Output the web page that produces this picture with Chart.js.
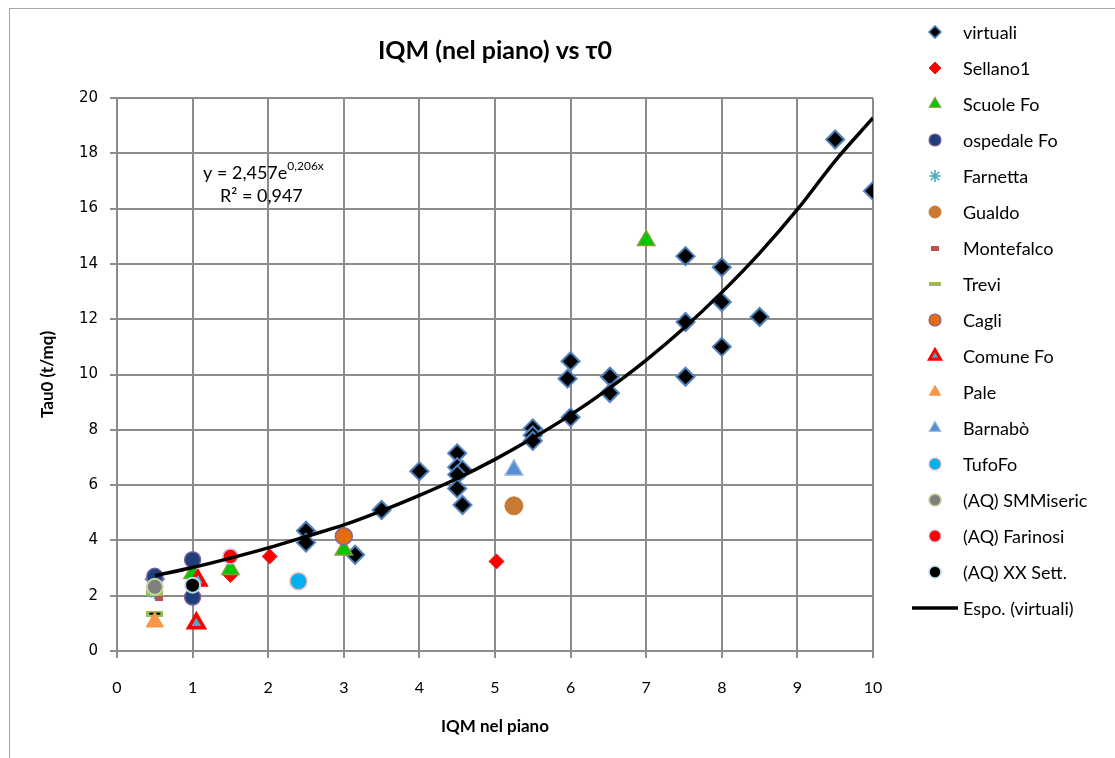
<!DOCTYPE html>
<html>
<head>
<meta charset="utf-8">
<script src="https://cdn.jsdelivr.net/npm/chart.js@4.4.1/dist/chart.umd.min.js"></script>
<style>
  html, body { margin: 0; padding: 0; background: #fff; }
  canvas { display: block; }
</style>
</head>
<body>
<canvas id="myChart" width="1115" height="758"></canvas>
<script>
// values (IQM nel piano -> Tau0)
const virtualiX = [0.5, 2.5, 2.5, 3.15, 3.5, 4.0, 4.5, 4.5, 4.57, 4.5, 4.5, 4.57, 5.5, 5.5, 5.5, 6.0, 5.96, 6.0, 6.52, 6.52, 7.52, 7.52, 7.52, 8.0, 8.0, 8.0, 8.5, 9.5, 10.0];
const virtualiY = [2.6, 4.35, 3.92, 3.48, 5.1, 6.5, 7.15, 6.65, 6.55, 6.38, 5.88, 5.28, 8.05, 7.8, 7.6, 8.45, 9.85, 10.48, 9.92, 9.33, 14.28, 11.9, 9.92, 13.88, 12.62, 11.0, 12.08, 18.5, 16.64];
const sellanoX = [1.5, 2.02, 5.02];
const sellanoY = [2.75, 3.42, 3.24];
const scuoleX = [1.0, 1.5, 3.0, 7.0];
const scuoleY = [2.8, 2.95, 3.65, 14.85];
const ospedaleX = [0.5, 1.0, 1.0];
const ospedaleY = [2.7, 3.3, 1.95];
const farnettaX = [0.5];
const farnettaY = [2.1];
const gualdoX = [5.25];
const gualdoY = [5.25];
const montefalcoX = [0.55];
const montefalcoY = [1.95];
const treviX = [0.5, 0.5];
const treviY = [1.35, 2.1];
const cagliX = [3.0];
const cagliY = [4.15];
const comuneX = [1.05, 1.07];
const comuneY = [1.0, 2.55];
const paleX = [0.5];
const paleY = [1.05];
const barnaboX = [5.25];
const barnaboY = [6.55];
const tufoX = [2.4];
const tufoY = [2.52];
const smmX = [0.5];
const smmY = [2.32];
const farinosiX = [1.5];
const farinosiY = [3.42];
const xxSettX = [1.0];
const xxSettY = [2.38];
// exponential trendline as it is drawn on the picture
const trendX = [0.5, 1, 1.5, 2, 2.5, 3, 3.5, 4, 4.5, 5, 5.5, 6, 6.5, 7, 7.5, 8, 8.5, 9, 9.5, 10];
const trendY = [2.72, 3.02, 3.36, 3.73, 4.14, 4.56, 5.07, 5.63, 6.24, 6.93, 7.70, 8.54, 9.48, 10.52, 11.68, 12.97, 14.39, 15.97, 17.73, 19.28];

const xTicks = [0, 1, 2, 3, 4, 5, 6, 7, 8, 9, 10];
const yTicks = [0, 2, 4, 6, 8, 10, 12, 14, 16, 18, 20];

const ctx = document.getElementById('myChart').getContext('2d');

function pts(xs, ys) {
    return xs.map((x, i) => ({ x: x, y: ys[i] }));
}

// small bar-shaped markers (Trevi, Montefalco)
function dashIcon(w, h, fill, mid) {
    const c = document.createElement('canvas');
    c.width = w;
    c.height = h;
    const g = c.getContext('2d');
    g.fillStyle = fill;
    g.fillRect(0, 0, w, h);
    if (mid) {
        g.fillStyle = mid;
        g.fillRect(3, h / 2 - 1, w - 6, 2);
    }
    return c;
}

const treviMark = dashIcon(17, 6, '#9bbb59', '#000');
const montefalcoMark = dashIcon(8, 7, '#c0504d');

let n = 16;
function series(label, xs, ys, style, radius, fill, edge, bw) {
    return {
        label: label,
        data: pts(xs, ys),
        pointStyle: style,
        pointRadius: radius,
        pointHoverRadius: radius,
        backgroundColor: fill,
        borderColor: edge,
        borderWidth: bw,
        pointBorderWidth: bw,
        order: n--
    };
}

const datasets = [
    series('virtuali', virtualiX, virtualiY, 'rectRot', 9, '#000000', '#4f81bd', 2),
    series('Sellano1', sellanoX, sellanoY, 'rectRot', 7.5, '#ff0000', '#e02020', 1),
    series('Scuole Fo', scuoleX, scuoleY, 'triangle', 10, '#00c800', '#8a9a3c', 1.5),
    series('ospedale Fo', ospedaleX, ospedaleY, 'circle', 8, '#1f3f7a', '#7a5fa0', 1.5),
    series('Farnetta', farnettaX, farnettaY, 'star', 6, '#4bacc6', '#4bacc6', 2),
    series('Gualdo', gualdoX, gualdoY, 'circle', 9, '#c87a35', '#c87a35', 1),
    series('Montefalco', montefalcoX, montefalcoY, montefalcoMark, 5, '#c0504d', '#c0504d', 1),
    series('Trevi', treviX, treviY, treviMark, 8, '#9bbb59', '#9bbb59', 1),
    series('Cagli', cagliX, cagliY, 'circle', 8.5, '#e46c0a', '#8064a2', 1.5),
    series('Comune Fo', comuneX, comuneY, 'triangle', 9, '#4bacc6', '#ff0000', 3.5),
    series('Pale', paleX, paleY, 'triangle', 10, '#f79646', '#f79646', 1),
    series('Barnabò', barnaboX, barnaboY, 'triangle', 10, '#558ed5', '#95b3d7', 1.5),
    series('TufoFo', tufoX, tufoY, 'circle', 8.5, '#00b0f0', '#e6b9b8', 1.5),
    series('(AQ) SMMiseric', smmX, smmY, 'circle', 8, '#7f7f7f', '#c3d69b', 2),
    series('(AQ) Farinosi', farinosiX, farinosiY, 'circle', 7.5, '#ff0000', '#ccc0da', 1.5),
    series('(AQ) XX Sett.', xxSettX, xxSettY, 'circle', 7.5, '#000000', '#b7dee8', 2),
    {
        label: 'Espo. (virtuali)',
        data: pts(trendX, trendY),
        showLine: true,
        borderColor: '#000',
        backgroundColor: '#000',
        borderWidth: 3.5,
        pointRadius: 0,
        cubicInterpolationMode: 'monotone',
        order: 0
    }
];

// legend icons drawn beside the labels
const legendIcons = [
    null, null, null, null, null, null,
    dashIcon(8, 5, '#c0504d'),
    dashIcon(12, 4, '#9bbb59'),
    null, null, null, null, null, null, null, null, 'line'
];

const paperPlugin = {
    id: 'paper',
    beforeDraw(chart) {
        const c = chart.ctx;
        c.save();
        c.fillStyle = '#fff';
        c.fillRect(0, 0, chart.width, chart.height);
        c.strokeStyle = '#a6a6a6';
        c.lineWidth = 1;
        c.strokeRect(9.5, 8.5, chart.width, chart.height);
        c.restore();
    }
};

const sideLegend = {
    id: 'sideLegend',
    afterDraw(chart) {
        const c = chart.ctx;
        const mx = 935, tx = 963;
        let y = 32;
        c.save();
        c.font = '18px Lato';
        c.textBaseline = 'middle';
        chart.data.datasets.forEach((ds, i) => {
            const icon = legendIcons[i];
            if (icon === 'line') {
                c.strokeStyle = '#000';
                c.lineWidth = 3.5;
                c.beginPath();
                c.moveTo(912, y);
                c.lineTo(958, y);
                c.stroke();
            } else if (icon) {
                c.drawImage(icon, mx - icon.width / 2, y - icon.height / 2);
            } else {
                c.fillStyle = ds.backgroundColor;
                c.strokeStyle = ds.borderColor;
                c.lineWidth = Math.max(1, ds.borderWidth * 0.8);
                const r = ds.pointStyle === 'triangle' ? 6.5 : 6;
                Chart.helpers.drawPoint(c, { pointStyle: ds.pointStyle, radius: r, borderWidth: c.lineWidth, rotation: 0 }, mx, y);
            }
            c.fillStyle = '#000';
            c.fillText(ds.label, tx, y + 1);
            y += 36;
        });
        c.restore();
    }
};

const trendLabel = {
    id: 'trendLabel',
    afterDraw(chart) {
        const c = chart.ctx;
        const a = chart.chartArea;
        const x0 = a.left + 86, y0 = a.top + 75;
        c.save();
        c.fillStyle = '#000';
        c.textBaseline = 'middle';
        c.font = '18px Lato';
        const base = 'y = 2,457e';
        c.fillText(base, x0, y0);
        const w = c.measureText(base).width;
        c.font = '12px Lato';
        c.fillText('0,206x', x0 + w, y0 - 7);
        c.font = '18px Lato';
        c.fillText('R² = 0,947', x0 + 17, y0 + 23);
        c.restore();
    }
};

const gridColor = '#8c8c8c';

const myChart = new Chart(ctx, {
    type: 'scatter',
    data: { datasets: datasets },
    options: {
        responsive: false,
        animation: false,
        layout: { padding: { left: 30, right: 242, top: 0, bottom: 20 } },
        plugins: {
            legend: { display: false },
            tooltip: { enabled: false },
            title: {
                display: true,
                fullSize: false,
                text: 'IQM (nel piano) vs τ0',
                color: '#000',
                font: { family: 'Lato', size: 25, weight: 'bold' },
                padding: { top: 36, bottom: 32 }
            }
        },
        scales: {
            x: {
                type: 'linear',
                min: 0,
                max: 10,
                afterBuildTicks: (s) => { s.ticks = xTicks.map(v => ({ value: v })); },
                afterFit: (s) => { s.height = 87; },
                ticks: { color: '#000', font: { family: 'Lato', size: 16 }, padding: 20 },
                grid: { color: gridColor, lineWidth: 2, tickLength: 7 },
                border: { color: gridColor, width: 2 },
                title: {
                    display: true,
                    text: 'IQM nel piano',
                    color: '#000',
                    font: { family: 'Lato', size: 17, weight: 'bold' },
                    padding: { top: 0, bottom: 1 }
                }
            },
            y: {
                type: 'linear',
                min: 0,
                max: 20,
                afterBuildTicks: (s) => { s.ticks = yTicks.map(v => ({ value: v })); },
                afterFit: (s) => { s.width = 87; },
                ticks: { color: '#000', font: { family: 'DejaVu Sans', size: 15 }, padding: 12 },
                grid: { color: gridColor, lineWidth: 2, tickLength: 7 },
                border: { color: gridColor, width: 2 },
                title: {
                    display: true,
                    text: 'Tau0 (t/mq)',
                    color: '#000',
                    font: { family: 'Lato', size: 17, weight: 'bold' },
                    padding: { top: 7, bottom: 0 }
                }
            }
        }
    },
    plugins: [paperPlugin, sideLegend, trendLabel]
});
</script>
</body>
</html>
